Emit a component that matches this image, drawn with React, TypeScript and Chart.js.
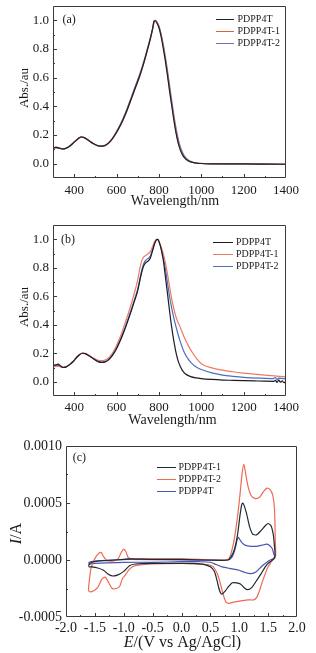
import React, { useEffect, useRef } from "react";
import { Chart, registerables } from "chart.js";

Chart.register(...registerables);

type Pt = [number, number];

const SERIF = "'Liberation Serif', 'Times New Roman', serif";
const TEXT = "#1a1a1a";
const AXIS = "#3a3a3a";

// ---------------- Panel (a) ----------------
const namesA = ["PDPP4T", "PDPP4T-1", "PDPP4T-2"];
const colorsA = ["#1f1f2e", "#d2673a", "#6b73b5"];
const wlRange: Pt = [300, 1400];
const absRange: Pt = [-0.1, 1.1];
const wlTicks = [400, 600, 800, 1000, 1200, 1400];
const absTicks = [0, 0.2, 0.4, 0.6, 0.8, 1.0];

const absA_PDPP4T: Pt[] = [
  [300, 0.11], [315, 0.113], [330, 0.108], [345, 0.103], [360, 0.107], [380, 0.124], [400, 0.15],
  [420, 0.176], [435, 0.186], [450, 0.18], [470, 0.16], [490, 0.14], [510, 0.126], [530, 0.122],
  [550, 0.13], [570, 0.155], [590, 0.195], [610, 0.245], [630, 0.305], [650, 0.375], [670, 0.455],
  [690, 0.535], [710, 0.615], [730, 0.71], [745, 0.79], [760, 0.875], [770, 0.94], [777, 0.995],
  [782, 0.997], [790, 0.982], [800, 0.95], [810, 0.89], [820, 0.81], [830, 0.72], [840, 0.62],
  [850, 0.51], [860, 0.41], [870, 0.31], [880, 0.22], [890, 0.15], [900, 0.1], [910, 0.065],
  [920, 0.042], [940, 0.018], [960, 0.008], [980, 0.003], [1000, 0.001], [1050, -0.001],
  [1100, -0.002], [1200, -0.002], [1300, -0.003], [1400, -0.004],
];
const absA_PDPP4T1: Pt[] = [
  [300, 0.108], [315, 0.11], [330, 0.106], [345, 0.102], [360, 0.106], [380, 0.123], [400, 0.149],
  [420, 0.175], [435, 0.185], [450, 0.179], [470, 0.159], [490, 0.139], [510, 0.125], [530, 0.121],
  [550, 0.129], [570, 0.153], [590, 0.192], [610, 0.242], [630, 0.302], [650, 0.372], [670, 0.452],
  [690, 0.532], [710, 0.612], [730, 0.707], [745, 0.788], [760, 0.872], [770, 0.937], [778, 0.99],
  [784, 1.0], [790, 0.99], [800, 0.957], [810, 0.9], [820, 0.825], [830, 0.735], [840, 0.635],
  [850, 0.525], [860, 0.42], [870, 0.32], [880, 0.23], [890, 0.158], [900, 0.105], [910, 0.068],
  [920, 0.045], [940, 0.019], [960, 0.008], [980, 0.003], [1000, 0.001], [1050, -0.001],
  [1100, -0.002], [1200, -0.002], [1300, -0.003], [1400, -0.004],
];
const absA_PDPP4T2: Pt[] = [
  [300, 0.112], [315, 0.115], [330, 0.11], [345, 0.104], [360, 0.108], [380, 0.125], [400, 0.151],
  [420, 0.177], [435, 0.187], [450, 0.181], [470, 0.161], [490, 0.141], [510, 0.127], [530, 0.123],
  [550, 0.132], [570, 0.158], [590, 0.2], [610, 0.252], [630, 0.314], [650, 0.385], [670, 0.466],
  [690, 0.547], [710, 0.627], [730, 0.72], [745, 0.8], [760, 0.88], [770, 0.94], [777, 0.99],
  [782, 1.0], [790, 0.99], [800, 0.96], [810, 0.905], [820, 0.835], [830, 0.75], [840, 0.655],
  [850, 0.55], [860, 0.445], [870, 0.345], [880, 0.255], [890, 0.18], [900, 0.122], [910, 0.083],
  [920, 0.055], [940, 0.024], [960, 0.011], [980, 0.005], [1000, 0.002], [1050, 0.0],
  [1100, -0.001], [1200, -0.002], [1300, -0.002], [1400, -0.003],
];

// ---------------- Panel (b) ----------------
const namesB = ["PDPP4T", "PDPP4T-1", "PDPP4T-2"];
const colorsB = ["#1c1c28", "#ef7a62", "#4a6fc0"];

const absB_PDPP4T: Pt[] = [
  [300, 0.112], [310, 0.118], [318, 0.121], [326, 0.123], [334, 0.113], [342, 0.104], [352, 0.1],
  [365, 0.106], [380, 0.122], [395, 0.142], [410, 0.168], [425, 0.19], [440, 0.2], [455, 0.196],
  [470, 0.182], [490, 0.162], [510, 0.143], [530, 0.135], [545, 0.138], [560, 0.15], [580, 0.183],
  [600, 0.232], [620, 0.296], [640, 0.372], [660, 0.455], [680, 0.545], [700, 0.64], [710, 0.71],
  [720, 0.775], [730, 0.82], [740, 0.838], [750, 0.848], [760, 0.87], [770, 0.918], [780, 0.97],
  [790, 0.998], [795, 1.0], [800, 0.985], [810, 0.935], [820, 0.86], [830, 0.745], [840, 0.625],
  [850, 0.5], [860, 0.385], [870, 0.29], [880, 0.21], [890, 0.15], [900, 0.11], [910, 0.082],
  [920, 0.062], [930, 0.05], [950, 0.036], [975, 0.027], [1000, 0.022], [1050, 0.016],
  [1100, 0.012], [1150, 0.01], [1200, 0.008], [1250, 0.006], [1300, 0.004], [1340, 0.003],
  [1350, 0.009], [1358, -0.004], [1366, 0.012], [1374, -0.003], [1382, 0.006], [1390, -0.006],
  [1400, 0.0],
];
const absB_PDPP4T1: Pt[] = [
  [300, 0.103], [315, 0.108], [330, 0.107], [345, 0.1], [360, 0.104], [380, 0.122], [395, 0.143],
  [410, 0.17], [425, 0.192], [440, 0.202], [455, 0.198], [470, 0.185], [490, 0.167], [510, 0.153],
  [530, 0.148], [545, 0.152], [560, 0.165], [580, 0.2], [600, 0.255], [620, 0.325], [640, 0.41],
  [660, 0.5], [680, 0.6], [700, 0.715], [710, 0.795], [720, 0.855], [730, 0.878], [740, 0.888],
  [750, 0.9], [760, 0.915], [770, 0.95], [780, 0.985], [790, 1.0], [800, 0.985], [810, 0.948],
  [820, 0.9], [830, 0.84], [840, 0.76], [850, 0.67], [860, 0.585], [870, 0.515], [880, 0.458],
  [890, 0.418], [900, 0.385], [920, 0.31], [940, 0.25], [960, 0.2], [980, 0.158], [1000, 0.127],
  [1050, 0.097], [1100, 0.081], [1150, 0.07], [1200, 0.061], [1300, 0.046], [1400, 0.034],
];
const absB_PDPP4T2: Pt[] = [
  [300, 0.11], [315, 0.115], [330, 0.113], [345, 0.102], [360, 0.105], [380, 0.122], [395, 0.142],
  [410, 0.168], [425, 0.19], [440, 0.2], [455, 0.196], [470, 0.183], [490, 0.164], [510, 0.147],
  [530, 0.14], [545, 0.143], [560, 0.155], [580, 0.19], [600, 0.24], [620, 0.305], [640, 0.38],
  [660, 0.465], [680, 0.555], [700, 0.65], [710, 0.72], [720, 0.79], [730, 0.835], [740, 0.855],
  [750, 0.866], [760, 0.885], [770, 0.93], [780, 0.978], [790, 1.0], [795, 0.998], [800, 0.985],
  [810, 0.94], [820, 0.875], [830, 0.8], [840, 0.7], [850, 0.6], [860, 0.52], [870, 0.45],
  [880, 0.39], [890, 0.335], [900, 0.285], [920, 0.205], [940, 0.155], [960, 0.122], [980, 0.1],
  [1000, 0.086], [1050, 0.062], [1100, 0.047], [1150, 0.038], [1200, 0.031], [1300, 0.024],
  [1340, 0.022], [1350, 0.03], [1358, 0.015], [1366, 0.026], [1400, 0.02],
];

// ---------------- Panel (c) ----------------
const namesC = ["PDPP4T-1", "PDPP4T-2", "PDPP4T"];
const colorsC = ["#1f2a33", "#ee6a55", "#4a56b0"];
const eRange: Pt = [-2, 2];
const iRange: Pt = [-0.0005, 0.001];
const eTicks = [-2, -1.5, -1, -0.5, 0, 0.5, 1, 1.5, 2];
const iTicks = [-0.0005, 0, 0.0005, 0.001];

const cv_PDPP4T1: Pt[] = [
  [0, 5e-6], [0.5, 0], [0.8, 0], [0.86, 3e-5], [0.92, 1.0e-4], [0.97, 2.2e-4], [1.01, 3.8e-4],
  [1.04, 4.8e-4], [1.06, 5.0e-4], [1.09, 4.7e-4], [1.13, 4.0e-4], [1.18, 2.9e-4], [1.23, 2.3e-4],
  [1.3, 2.2e-4], [1.38, 2.6e-4], [1.45, 3.0e-4], [1.5, 3.2e-4], [1.55, 3.0e-4], [1.59, 2.2e-4],
  [1.61, 1.2e-4], [1.62, 4e-5], [1.6, 1e-5], [1.55, -1e-5], [1.5, -3e-5], [1.45, -6e-5],
  [1.38, -1.2e-4], [1.3, -1.8e-4], [1.22, -2.4e-4], [1.15, -2.6e-4], [1.1, -2.5e-4],
  [1.02, -2.1e-4], [0.95, -2.0e-4], [0.88, -2.0e-4], [0.82, -2.3e-4], [0.76, -2.7e-4],
  [0.7, -3.0e-4], [0.66, -2.7e-4], [0.62, -1.9e-4], [0.57, -1.0e-4], [0.5, -6e-5], [0.4, -4e-5],
  [0.2, -3e-5], [0, -3e-5], [-0.5, -3e-5], [-0.8, -3.5e-5], [-0.9, -5e-5], [-1.0, -1.0e-4],
  [-1.1, -1.3e-4], [-1.2, -1.4e-4], [-1.28, -1.2e-4], [-1.35, -9e-5], [-1.45, -7e-5],
  [-1.55, -6e-5], [-1.6, -6e-5], [-1.6, -4e-5], [-1.55, -2e-5], [-1.45, -1e-5], [-1.3, -5e-6],
  [-1.0, 5e-6], [-0.9, 1e-5], [-0.5, 5e-6], [0, 5e-6],
];
const cv_PDPP4T2: Pt[] = [
  [0, 1e-5], [0.3, 5e-6], [0.6, 0], [0.75, 0], [0.82, 1e-5], [0.87, 8e-5], [0.92, 2.0e-4],
  [0.97, 3.8e-4], [1.01, 5.6e-4], [1.05, 7.6e-4], [1.08, 8.4e-4], [1.11, 7.6e-4], [1.15, 6.5e-4],
  [1.2, 5.7e-4], [1.27, 5.4e-4], [1.35, 5.5e-4], [1.42, 6.0e-4], [1.48, 6.3e-4], [1.53, 6.2e-4],
  [1.58, 5.7e-4], [1.61, 4.5e-4], [1.625, 1.5e-4], [1.63, 4e-5], [1.6, 2e-5], [1.55, -2e-5],
  [1.5, -6e-5], [1.45, -1.2e-4], [1.4, -1.9e-4], [1.35, -2.7e-4], [1.3, -3.3e-4], [1.25, -3.5e-4],
  [1.15, -3.5e-4], [1.0, -3.6e-4], [0.9, -3.7e-4], [0.82, -3.8e-4], [0.77, -3.7e-4],
  [0.72, -3.0e-4], [0.67, -2.0e-4], [0.62, -1.2e-4], [0.55, -6e-5], [0.45, -4e-5], [0.2, -3.5e-5],
  [0, -3e-5], [-0.5, -3.5e-5], [-0.8, -5e-5], [-0.9, -8e-5], [-0.97, -1.3e-4], [-1.02, -1.6e-4],
  [-1.07, -2.3e-4], [-1.13, -2.5e-4], [-1.2, -2.5e-4], [-1.26, -2.0e-4], [-1.32, -1.5e-4],
  [-1.38, -1.7e-4], [-1.45, -2.4e-4], [-1.52, -2.7e-4], [-1.58, -2.8e-4], [-1.61, -2.7e-4],
  [-1.6, -2.0e-4], [-1.57, -8e-5], [-1.53, -2e-5], [-1.48, 3e-5], [-1.43, 6e-5], [-1.39, 6.5e-5],
  [-1.35, 3e-5], [-1.3, 0], [-1.2, -1e-5], [-1.1, 1e-5], [-1.04, 7e-5], [-1.0, 9.5e-5],
  [-0.96, 7e-5], [-0.92, 2e-5], [-0.85, 1e-5], [-0.5, 1e-5], [0, 1e-5],
];
const cv_PDPP4T: Pt[] = [
  [0, 0], [0.8, 0], [0.88, 3e-5], [0.93, 1.0e-4], [0.96, 1.7e-4], [0.98, 2.0e-4], [1.01, 1.8e-4],
  [1.05, 1.5e-4], [1.1, 1.3e-4], [1.2, 1.2e-4], [1.3, 1.2e-4], [1.4, 1.3e-4], [1.47, 1.4e-4],
  [1.52, 1.3e-4], [1.57, 1.0e-4], [1.6, 5e-5], [1.62, 2e-5], [1.58, 1e-5], [1.5, -1e-5],
  [1.4, -5e-5], [1.3, -1.0e-4], [1.2, -1.2e-4], [1.1, -1.1e-4], [1.0, -9e-5], [0.9, -8e-5],
  [0.8, -7e-5], [0.7, -6e-5], [0.6, -4e-5], [0.5, -2e-5], [0.3, -1.5e-5], [0, -1.5e-5],
  [-0.5, -2e-5], [-1.0, -2e-5], [-1.3, -2.5e-5], [-1.5, -3e-5], [-1.6, -3.5e-5], [-1.6, -2e-5],
  [-1.5, -1e-5], [-1.2, 0], [-0.9, 5e-6], [0, 0],
];

// ---------------- helpers ----------------
function minors(major: number[], min: number, max: number): number[] {
  const out: number[] = [];
  const step = major[1] - major[0];
  const tol = Math.abs(step) * 0.01;
  const first = major[0] - step / 2;
  const last = major[major.length - 1] + step / 2;
  if (first > min + tol) out.push(first);
  for (let i = 0; i < major.length - 1; i++) out.push((major[i] + major[i + 1]) / 2);
  if (last < max - tol) out.push(last);
  return out;
}

type Part = { text: string; italic?: boolean };
type TitleSpec = { parts: Part[]; x: number; y: number; rot: number; size: number };
type DecorSpec = {
  xMajor: number[];
  yMajor: number[];
  xMinor: number[];
  yMinor: number[];
  titles: TitleSpec[];
  panel: { text: string; x: number; y: number; size: number };
  legend: { x: number; y: number; dy: number; line: number; gap: number; size: number };
};

function drawRich(ctx: CanvasRenderingContext2D, t: TitleSpec) {
  ctx.save();
  ctx.translate(t.x, t.y);
  ctx.rotate(t.rot);
  ctx.textBaseline = "middle";
  ctx.textAlign = "left";
  ctx.fillStyle = TEXT;
  const fonts = t.parts.map((p) => `${p.italic ? "italic " : ""}${t.size}px ${SERIF}`);
  let w = 0;
  t.parts.forEach((p, i) => {
    ctx.font = fonts[i];
    w += ctx.measureText(p.text).width;
  });
  let x = -w / 2;
  t.parts.forEach((p, i) => {
    ctx.font = fonts[i];
    ctx.fillText(p.text, x, 0);
    x += ctx.measureText(p.text).width;
  });
  ctx.restore();
}

function makeDecor(d: DecorSpec) {
  return {
    id: "decor",
    afterDatasetsDraw(chart: any) {
      const ctx: CanvasRenderingContext2D = chart.ctx;
      const ca = chart.chartArea;
      const L = Math.round(ca.left);
      const R = Math.round(ca.right);
      const T = Math.round(ca.top);
      const B = Math.round(ca.bottom);
      const xs = chart.scales.x;
      const ys = chart.scales.y;
      ctx.save();
      ctx.strokeStyle = AXIS;
      ctx.lineWidth = 1;
      ctx.beginPath();
      ctx.rect(L + 0.5, T + 0.5, R - L - 1, B - T - 1);
      ctx.stroke();
      ctx.beginPath();
      const xt = (vals: number[], len: number) =>
        vals.forEach((v) => {
          const p = Math.round(xs.getPixelForValue(v)) + 0.5;
          if (p <= L + 1 || p >= R - 1) return;
          ctx.moveTo(p, B);
          ctx.lineTo(p, B - len);
        });
      const yt = (vals: number[], len: number) =>
        vals.forEach((v) => {
          const p = Math.round(ys.getPixelForValue(v)) + 0.5;
          if (p <= T + 1 || p >= B - 1) return;
          ctx.moveTo(L, p);
          ctx.lineTo(L + len, p);
        });
      xt(d.xMajor, 4);
      xt(d.xMinor, 2);
      yt(d.yMajor, 4);
      yt(d.yMinor, 2);
      ctx.stroke();
      ctx.restore();

      d.titles.forEach((t) => drawRich(ctx, t));

      ctx.save();
      ctx.fillStyle = TEXT;
      ctx.textBaseline = "middle";
      ctx.textAlign = "left";
      ctx.font = `${d.panel.size}px ${SERIF}`;
      ctx.fillText(d.panel.text, d.panel.x, d.panel.y);

      const lg = d.legend;
      ctx.font = `${lg.size}px ${SERIF}`;
      chart.data.datasets.forEach((ds: any, i: number) => {
        const y = Math.round(lg.y + i * lg.dy) + 0.5;
        ctx.strokeStyle = ds.borderColor;
        ctx.lineWidth = 1;
        ctx.beginPath();
        ctx.moveTo(lg.x, y);
        ctx.lineTo(lg.x + lg.line, y);
        ctx.stroke();
        ctx.fillStyle = TEXT;
        ctx.fillText(ds.label, lg.x + lg.line + lg.gap, y);
      });
      ctx.restore();
    },
  };
}

function axis(
  range: Pt,
  ticks: number[],
  fmt: (v: number) => string,
  pad: number,
  size: number,
  fixed: { width?: number; height?: number }
) {
  return {
    type: "linear",
    min: range[0],
    max: range[1],
    grid: { display: false, drawTicks: false },
    border: { display: false },
    afterBuildTicks: (s: any) => {
      s.ticks = ticks.map((v) => ({ value: v }));
    },
    ticks: {
      padding: pad,
      color: TEXT,
      autoSkip: false,
      maxRotation: 0,
      minRotation: 0,
      font: { family: SERIF, size },
      callback: (v: any) => fmt(Number(v)),
    },
    afterFit: (s: any) => {
      if (fixed.width != null) s.width = fixed.width;
      if (fixed.height != null) s.height = fixed.height;
      s.paddingTop = 0;
      s.paddingBottom = 0;
      s.paddingLeft = 0;
      s.paddingRight = 0;
    },
  };
}

function lineDs(label: string, pts: Pt[], color: string, cv: boolean) {
  return {
    label,
    data: pts.map(([x, y]) => ({ x, y })),
    borderColor: color,
    backgroundColor: color,
    borderWidth: 1.2,
    pointRadius: 0,
    fill: false,
    ...(cv ? { tension: 0.25 } : { cubicInterpolationMode: "monotone" }),
  };
}

function baseOptions(x: any, y: any, padding: any) {
  return {
    responsive: false,
    maintainAspectRatio: false,
    animation: false,
    events: [],
    layout: { padding },
    scales: { x, y },
    plugins: { legend: { display: false }, tooltip: { enabled: false }, title: { display: false } },
  };
}

const fmtInt = (v: number) => String(Math.round(v));
const fmt1 = (v: number) => v.toFixed(1);
const fmt4 = (v: number) => v.toFixed(4);

const buildA = () => ({
  type: "line",
  data: {
    datasets: [
      lineDs(namesA[0], absA_PDPP4T, colorsA[0], false),
      lineDs(namesA[1], absA_PDPP4T1, colorsA[1], false),
      lineDs(namesA[2], absA_PDPP4T2, colorsA[2], false),
    ],
  },
  options: baseOptions(
    axis(wlRange, wlTicks, fmtInt, 4.5, 13, { height: 32 }),
    axis(absRange, absTicks, fmt1, 4, 13, { width: 53 }),
    { top: 6, right: 30, left: 0, bottom: 0 }
  ),
  plugins: [
    makeDecor({
      xMajor: wlTicks,
      yMajor: absTicks,
      xMinor: minors(wlTicks, wlRange[0], wlRange[1]),
      yMinor: minors(absTicks, absRange[0], absRange[1]),
      titles: [
        { parts: [{ text: "Abs./au" }], x: 25, y: 88, rot: -Math.PI / 2, size: 13 },
        { parts: [{ text: "Wavelength/nm" }], x: 175, y: 201.5, rot: 0, size: 14 },
      ],
      panel: { text: "(a)", x: 62.5, y: 19.5, size: 12 },
      legend: { x: 216, y: 19.3, dy: 12, line: 18, gap: 3.5, size: 10 },
    }),
  ],
});

const buildB = () => ({
  type: "line",
  data: {
    datasets: [
      lineDs(namesB[0], absB_PDPP4T, colorsB[0], false),
      lineDs(namesB[1], absB_PDPP4T1, colorsB[1], false),
      lineDs(namesB[2], absB_PDPP4T2, colorsB[2], false),
    ],
  },
  options: baseOptions(
    axis(wlRange, wlTicks, fmtInt, 4, 13, { height: 34 }),
    axis(absRange, absTicks, fmt1, 4, 13, { width: 53 }),
    { top: 15, right: 30, left: 0, bottom: 0 }
  ),
  plugins: [
    makeDecor({
      xMajor: wlTicks,
      yMajor: absTicks,
      xMinor: minors(wlTicks, wlRange[0], wlRange[1]),
      yMinor: minors(absTicks, absRange[0], absRange[1]),
      titles: [
        { parts: [{ text: "Abs./au" }], x: 25, y: 97, rot: -Math.PI / 2, size: 13 },
        { parts: [{ text: "Wavelength/nm" }], x: 172.5, y: 210, rot: 0, size: 14 },
      ],
      panel: { text: "(b)", x: 61, y: 30, size: 12 },
      legend: { x: 213, y: 31.7, dy: 12.2, line: 20, gap: 3, size: 10 },
    }),
  ],
});

const buildC = () => ({
  type: "line",
  data: {
    datasets: [
      lineDs(namesC[0], cv_PDPP4T1, colorsC[0], true),
      lineDs(namesC[1], cv_PDPP4T2, colorsC[1], true),
      lineDs(namesC[2], cv_PDPP4T, colorsC[2], true),
    ],
  },
  options: baseOptions(
    axis(eRange, eTicks, fmt1, 3, 14, { height: 36 }),
    axis(iRange, iTicks, fmt4, 4, 14, { width: 66 }),
    { top: 16, right: 19, left: 0, bottom: 0 }
  ),
  plugins: [
    makeDecor({
      xMajor: eTicks,
      yMajor: iTicks,
      xMinor: minors(eTicks, eRange[0], eRange[1]),
      yMinor: minors(iTicks, iRange[0], iRange[1]),
      titles: [
        { parts: [{ text: "I", italic: true }, { text: "/A" }], x: 16.7, y: 103.7, rot: -Math.PI / 2, size: 16 },
        { parts: [{ text: "E", italic: true }, { text: "/(V vs Ag/AgCl)" }], x: 182.5, y: 212.7, rot: 0, size: 16 },
      ],
      panel: { text: "(c)", x: 72.7, y: 28.3, size: 12 },
      legend: { x: 157, y: 36.7, dy: 12, line: 19, gap: 2.5, size: 10 },
    }),
  ],
});

function ChartPanel({ top, height, build }: { top: number; height: number; build: () => any }) {
  const ref = useRef<HTMLCanvasElement | null>(null);
  useEffect(() => {
    if (!ref.current) return;
    const chart = new Chart(ref.current, build());
    return () => chart.destroy();
  }, [build]);
  return (
    <canvas
      ref={ref}
      width={316}
      height={height}
      style={{ position: "absolute", left: 0, top, width: 316, height, display: "block" }}
    />
  );
}

export default function App() {
  return (
    <div
      style={{
        position: "absolute",
        left: 0,
        top: 0,
        width: 316,
        height: 653,
        background: "#fff",
        overflow: "hidden",
      }}
    >
      <ChartPanel top={0} height={210} build={buildA} />
      <ChartPanel top={210} height={220} build={buildB} />
      <ChartPanel top={430} height={223} build={buildC} />
    </div>
  );
}
